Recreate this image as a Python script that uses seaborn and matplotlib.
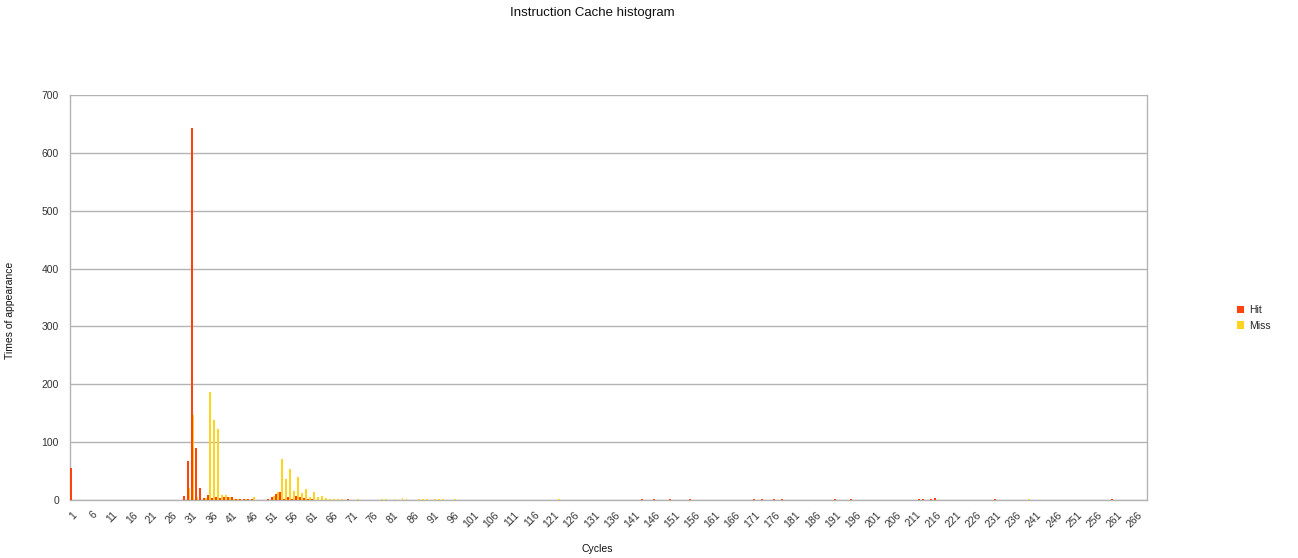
import matplotlib
matplotlib.use("Agg")
import matplotlib.pyplot as plt
import seaborn as sns
import pandas as pd

# Number of cycle buckets on the x axis (1 .. 268)
n_cycles = 268

# Non-zero counts per cycle bucket
hit_counts = {
    1: 55, 29: 7, 30: 67, 31: 643, 32: 90, 33: 20, 34: 4, 35: 9, 36: 3,
    37: 6, 38: 4, 39: 6, 40: 5, 41: 6, 42: 2, 43: 1, 44: 1, 45: 1, 46: 2,
    50: 1, 51: 6, 52: 10, 53: 13, 54: 2, 55: 5, 56: 1, 57: 7, 58: 6,
    59: 3, 60: 1, 61: 1, 70: 1, 143: 1, 146: 1, 150: 1, 155: 1, 171: 1,
    173: 1, 176: 1, 178: 1, 191: 2, 195: 1, 212: 1, 213: 2, 215: 1,
    216: 3, 231: 1, 260: 1,
}
miss_counts = {
    30: 21, 31: 147, 32: 5, 34: 3, 35: 187, 36: 139, 37: 123, 38: 9,
    39: 9, 40: 6, 41: 2, 42: 2, 44: 1, 46: 5, 51: 7, 52: 13, 53: 71,
    54: 36, 55: 53, 56: 16, 57: 40, 58: 12, 59: 19, 60: 6, 61: 14,
    62: 5, 63: 7, 64: 3, 65: 2, 66: 1, 67: 1, 68: 1, 72: 1, 78: 1,
    79: 2, 81: 1, 83: 3, 84: 1, 87: 1, 88: 2, 89: 2, 91: 1, 92: 2,
    93: 2, 96: 1, 122: 1, 239: 1,
}

series_names = ["Hit", "Miss"]
series_colors = ["#ff420e", "#ffd320"]

cycles = list(range(1, n_cycles + 1))
rows = []
for name, counts in zip(series_names, [hit_counts, miss_counts]):
    for c in cycles:
        rows.append({"Cycles": str(c), "Count": counts.get(c, 0), "Series": name})
df = pd.DataFrame(rows)

sns.set_style("white")
plt.rcParams["font.family"] = ["Liberation Sans", "DejaVu Sans"]

fig = plt.figure(figsize=(12.98, 5.58), dpi=100)
ax = fig.add_axes([70 / 1298, 1 - 500 / 558, 1077 / 1298, 405 / 558])

sns.barplot(data=df, x="Cycles", y="Count", hue="Series",
            order=[str(c) for c in cycles], hue_order=series_names,
            palette=series_colors, width=0.95, saturation=1,
            errorbar=None, ax=ax, linewidth=0, edgecolor="none", zorder=3)

ax.set_xlim(-0.5, n_cycles - 0.5)
ax.set_ylim(0, 700)
ax.set_yticks(range(0, 701, 100))
ax.yaxis.grid(True, color="#b3b3b3", linewidth=1)
ax.set_axisbelow(True)

labels = [str(c) if (c - 1) % 5 == 0 else "" for c in cycles]
ax.set_xticks(range(n_cycles))
ax.set_xticklabels(labels, rotation=45, ha="right", rotation_mode="anchor",
                   fontsize=7.5, color="#333333")
ax.tick_params(axis="x", length=4, width=1, color="#b3b3b3", pad=3)
ax.tick_params(axis="y", length=0, pad=8, labelsize=7.5, labelcolor="#333333")

for side in ["left", "bottom", "right"]:
    ax.spines[side].set_visible(True)
    ax.spines[side].set_color("#b3b3b3")
    ax.spines[side].set_linewidth(1)
ax.spines["top"].set_visible(False)

ax.set_xlabel("")
ax.set_ylabel("")
fig.text(597 / 1298, 1 - 549 / 558, "Cycles", ha="center", va="center",
         fontsize=7.5, color="#111111")
fig.text(10 / 1298, 1 - 310 / 558, "Times of appearance", ha="center",
         va="center", rotation=90, fontsize=7.5, color="#111111")
fig.text(592 / 1298, 1 - 13 / 558, "Instruction Cache histogram",
         ha="center", va="center", fontsize=9.5, color="#111111")

handles, leg_labels = ax.get_legend_handles_labels()
ax.legend(handles, leg_labels, loc="center left",
          bbox_to_anchor=(1233 / 1298, 1 - 318 / 558),
          bbox_transform=fig.transFigure, frameon=False,
          handlelength=0.7, handleheight=0.7, handletextpad=0.4,
          labelspacing=0.5, fontsize=7.5, borderaxespad=0)

fig.savefig("out.png", dpi=100)
